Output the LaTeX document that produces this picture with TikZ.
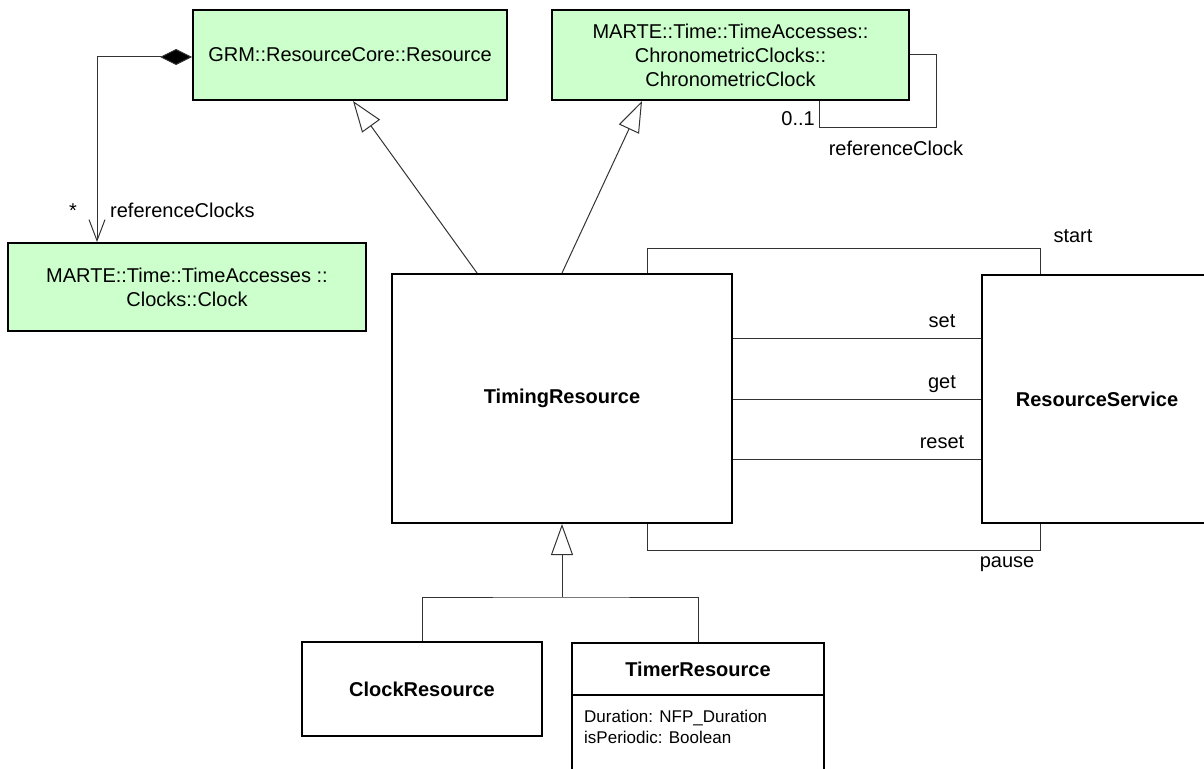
\documentclass[tikz,border=0pt]{standalone}
\usepackage{fontspec}
\setmainfont{Liberation Sans}
\usetikzlibrary{arrows.meta}

\definecolor{pkggreen}{HTML}{CCFFCC}

\begin{document}
\begin{tikzpicture}[
    x=1pt, y=-1pt,
    font=\fontsize{20}{24}\selectfont,
    box/.style={draw=black, line width=2pt, inner sep=4pt, align=center},
    pkg/.style={box, fill=pkggreen},
    cls/.style={box, fill=white, font=\fontsize{20}{24}\selectfont\bfseries},
    lbl/.style={inner sep=0pt},
    conn/.style={draw=black!80, line width=1pt},
    gen/.style={conn, -{Triangle[open, length=31pt, width=22pt]}},
    comp/.style={conn, {Diamond[length=32pt, width=16pt, fill=black]}-{Straight Barb[length=21pt, width=16pt]}}
]
    \useasboundingbox (0,0) rectangle (1204,768);

    % Coordinates
    \coordinate (res_c) at (350, 55);
    \coordinate (chrono_c) at (730.5, 55);
    \coordinate (clock_c) at (187, 287);
    \coordinate (timing_c) at (562, 398.5);
    \coordinate (service_c) at (1097, 399);
    \coordinate (clockres_c) at (422, 689);
    \coordinate (timer_c) at (698, 721.5);

    \coordinate (loop_r) at (936, 127);
    \coordinate (start_top) at (647, 248);
    \coordinate (pause_bot) at (647, 550);
    \coordinate (bus) at (562, 597);

    % Imported packages
    \node[pkg, minimum width=314pt, minimum height=90pt] (res) at (res_c) {GRM::ResourceCore::Resource};
    \node[pkg, minimum width=357pt, minimum height=90pt] (chrono) at (chrono_c)
        {MARTE::Time::TimeAccesses::\\ChronometricClocks::\\ChronometricClock};
    \node[pkg, minimum width=358pt, minimum height=88pt] (clock) at (clock_c)
        {MARTE::Time::TimeAccesses ::\\Clocks::Clock};

    % Classes
    \node[cls, minimum width=340pt, minimum height=249pt] (timing) at (timing_c) {TimingResource};
    \node[cls, minimum width=230pt, minimum height=248pt] (service) at (service_c) {ResourceService};
    \node[cls, minimum width=240pt, minimum height=94pt] (clockres) at (clockres_c) {ClockResource};

    % TimerResource with its attribute compartment
    \node[box, minimum width=252pt, minimum height=157pt] (timer) at (timer_c) {};
    \node[lbl, font=\fontsize{20}{24}\selectfont\bfseries] (timer_name) at (698, 669) {TimerResource};
    \draw[line width=1.2pt] (timer.west |- 0,695) -- (timer.east |- 0,695);
    \node[lbl, anchor=base west, font=\fontsize{17}{21}\selectfont] (attr_dur) at (584, 722) {Duration: NFP\_Duration};
    \node[lbl, anchor=base west, font=\fontsize{17}{21}\selectfont] (attr_per) at (584, 743) {isPeriodic: Boolean};

    % Composition (referenceClocks)
    \draw[comp] ([yshift=-2pt]res.west) -| ([xshift=90pt]clock.north west);
    \node[lbl, anchor=base] (mult_star) at (73, 217) {*};
    \node[lbl, anchor=base west] (ref_clocks) at (110, 217) {referenceClocks};

    % Self association (referenceClock)
    \draw[conn] (chrono.east) -| (loop_r) -| ([xshift=88.5pt]chrono.south);
    \node[lbl, anchor=base east] (mult_01) at (815, 125) {0..1};
    \node[lbl, anchor=base] (ref_clock) at (896, 155) {referenceClock};

    % Generalizations
    \draw[gen] ([xshift=-85pt]timing.north) -- ([xshift=3pt]res.south);
    \draw[gen] (timing.north) -- ([xshift=-88.5pt]chrono.south);
    \draw[conn] (clockres.north) |- (bus) -| (timer.north);
    \draw[gen] (bus) -- (timing.south);

    % Services
    \draw[conn] ([xshift=85pt]timing.north) -- (start_top) -| ([xshift=-57pt]service.north);
    \draw[conn] ([xshift=85pt]timing.south) -- (pause_bot) -| ([xshift=-57pt]service.south);
    \node[lbl, anchor=base] (op_start) at (1073, 242) {start};
    \node[lbl, anchor=base] (op_pause) at (1007, 567) {pause};

    \foreach \op/\yy in {set/338, get/399, reset/459} {
        \draw[conn] (timing.east |- 0,\yy) -- (service.west |- 0,\yy);
        \node[lbl, anchor=base] (op_\op) at (942, \yy-11) {\op};
    }

\end{tikzpicture}
\end{document}
